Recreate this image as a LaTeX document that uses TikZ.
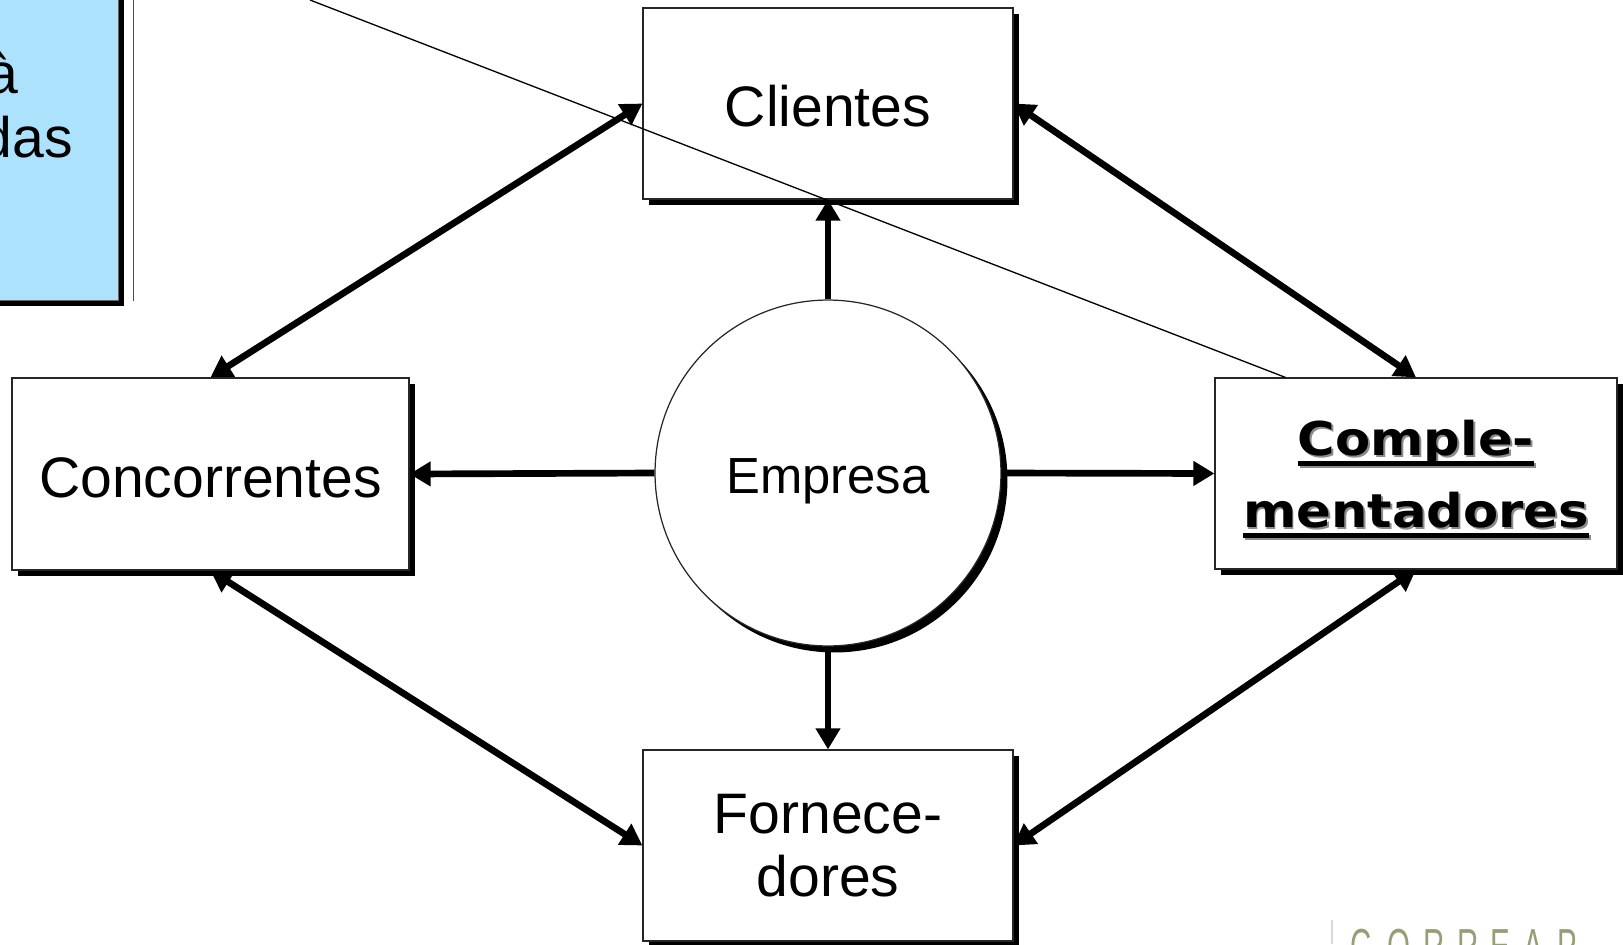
\documentclass[tikz,border=0pt]{standalone}
\usepackage{fontspec}
\setmainfont{Liberation Sans}
\newfontfamily\compfont{DejaVu Sans}[FakeStretch=1.1]
\newfontfamily\logofont{Liberation Sans}[FakeStretch=0.6]
\usetikzlibrary{arrows.meta,shadows}

\definecolor{panelblue}{RGB}{173,226,252}
\definecolor{shadegray}{RGB}{140,140,140}
\definecolor{logogreen}{RGB}{150,158,118}

\newcommand{\thickul}[1]{\setbox0=\hbox{#1}\rlap{\raisebox{-6.2pt}{\rule{\wd0}{2.8pt}}}\box0}
\newcommand{\shadowed}[1]{\leavevmode\rlap{\kern1.1pt\raisebox{-1.1pt}{\color{shadegray}#1}}#1}

\begin{document}
\begin{tikzpicture}[x=0.02cm,y=-0.02cm,
    box/.style={draw=black!85,line width=0.7pt,fill=white,minimum width=7.4cm,minimum height=3.82cm,
        inner sep=0pt,align=center,font=\fontsize{32.5}{35.7}\selectfont,
        drop shadow={shadow xshift=0.12cm,shadow yshift=-0.12cm,opacity=1,fill=black}},
    link/.style={line width=3.8pt,-{Triangle[length=12pt,width=13.5pt]}},
    dlink/.style={line width=3.8pt,{Triangle[length=12pt,width=13.5pt]}-{Triangle[length=12pt,width=13.5pt]}},
    hairline/.style={line width=0.75pt}]
            \useasboundingbox (0,0) rectangle (1623,944);
            \clip (0,0) rectangle (1623,944);

            \node (panel) at (49,140) [draw=black!60,line width=0.5pt,fill=panelblue,minimum width=2.76cm,minimum height=6.4cm,
                drop shadow={shadow xshift=0.12cm,shadow yshift=-0.12cm,opacity=1,fill=black}] {};
            \node (panelA) at (19,93) [anchor=base east,inner sep=0pt,font=\fontsize{32.5}{35.7}\selectfont] {à};
            \node (panelB) at (73,157) [anchor=base east,inner sep=0pt,font=\fontsize{32.5}{35.7}\selectfont] {das};
            \coordinate (rulerTop) at (133.5,0);
            \coordinate (rulerBot) at (133.5,301);
            \draw[hairline,black!70] (rulerTop) -- (rulerBot);

            \node (cli) at (828,103.5) [box,text height=27pt] {Clientes};
            \node (conc) at (210.5,474) [box,text height=27pt,minimum width=7.94cm,minimum height=3.84cm] {Concorrentes};
            \node (emp) at (828,473) [circle,draw=black!85,line width=0.7pt,fill=white,minimum size=6.92cm,inner sep=0pt,
                font=\fontsize{28.9}{32}\selectfont,text height=23pt,text depth=0pt,
                drop shadow={shadow xshift=0.13cm,shadow yshift=-0.13cm,opacity=1,fill=black}] {Empresa};
            \node (comp) at (1416,473.5) [box,minimum width=8.04cm,text depth=0pt,
                font=\compfont\bfseries\fontsize{26.5}{41}\selectfont]
                {\shadowed{\thickul{Comple-}}\\\shadowed{\thickul{mentadores}}};
            \node (forn) at (828,845.5) [box] {Fornece-\\dores};

            \draw[link] (emp.north) -- (cli.south);
            \draw[link] (emp.west) -- (conc.east);
            \draw[link] (emp.east) -- (comp.west);
            \draw[link] (emp.south) -- (forn.north);
            \draw[dlink] (cli.west) -- (conc.north);
            \draw[dlink] (cli.east) -- (comp.north);
            \draw[dlink] (conc.south) -- (forn.west);
            \draw[dlink] (comp.south) -- (forn.east);

            \coordinate (crossA) at (310,0);
            \coordinate (crossB) at ([xshift=1.42cm]comp.north west);
            \draw[hairline] (crossA) -- (crossB);

            \coordinate (logoTop) at (1332,920);
            \coordinate (logoBot) at (1332,944);
            \draw[hairline,black!15] (logoTop) -- (logoBot);
            \foreach \ch/\xx [count=\k] in {C/1350,O/1387,R/1423,R/1457,E/1490,A/1523,P/1557}
                \node (logo\k) at (\xx,963) [anchor=base west,inner sep=0pt,text=logogreen,font=\logofont\fontsize{28}{28}\selectfont] {\ch};
        \end{tikzpicture}
\end{document}
